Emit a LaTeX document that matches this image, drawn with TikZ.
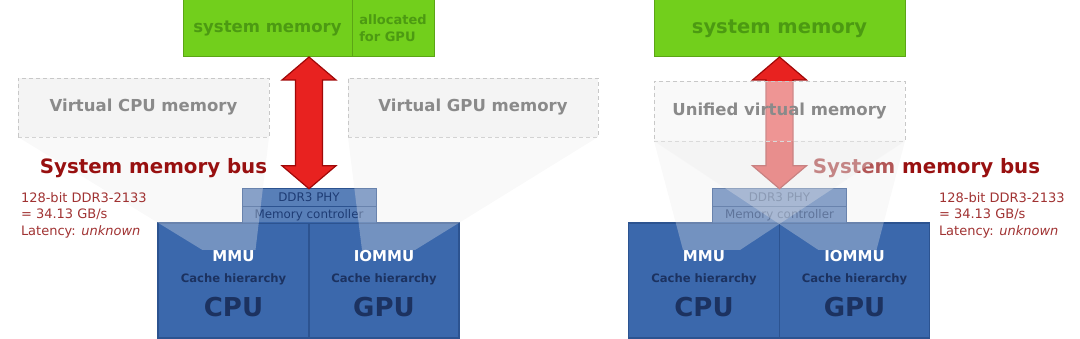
\documentclass[tikz,border=0pt]{standalone}
\usepackage{fontspec}
\setmainfont{DejaVu Sans}
\usepackage{xcolor}
\usepackage{tikz}
\usetikzlibrary{calc, positioning}
\definecolor{memgreen}{HTML}{72CF1C}
\definecolor{memgreenline}{HTML}{5BA515}
\definecolor{memgreentext}{HTML}{4C9A12}
\definecolor{blockblue}{HTML}{3B68AC}
\definecolor{blockline}{HTML}{2C5390}
\definecolor{labelnavy}{HTML}{1C3260}
\definecolor{mctext}{HTML}{1E3C74}
\definecolor{busred}{HTML}{E82220}
\definecolor{busedge}{HTML}{A00808}
\definecolor{bustext}{HTML}{981010}
\definecolor{spectext}{HTML}{A03232}
\definecolor{virtfill}{HTML}{F4F4F4}
\definecolor{virtline}{HTML}{C8C8C8}
\definecolor{virttext}{HTML}{8A8A8A}
\def\headW{27pt}
\def\headL{23pt}
\def\shaftW{13.5pt}
\newcommand{\fsize}[2]{\fontsize{#1}{#2}\selectfont}
\newcommand{\busarrow}[3][]{%
% #1 = extra options, #2 = memory node (top), #3 = controller node (bottom)
\draw[busline,#1] let \p1=(#3.north), \p2=(#2.south) in
(\x1,\y2) -- (\x1+\headW,\y2-\headL) -- (\x1+\shaftW,\y2-\headL)
-- (\x1+\shaftW,\y1+\headL) -- (\x1+\headW,\y1+\headL) -- (\x1,\y1)
-- (\x1-\headW,\y1+\headL) -- (\x1-\shaftW,\y1+\headL)
-- (\x1-\shaftW,\y2-\headL) -- (\x1-\headW,\y2-\headL) -- cycle;
}
\newcommand{\corelabels}[3]{%
% #1 = block node, #2 = mmu name, #3 = unit name
\node[mmutext] (#1-mmu) at ($(#1.north)+(0,33)$) {#2};
\node[cachetext] (#1-cache) at ($(#1.north)+(0,56)$) {Cache hierarchy};
\node[unittext] (#1-unit) at ($(#1.north)+(0,84)$) {#3};
}

\begin{document}
\begin{tikzpicture}[
    x=1pt, y=-1pt,
    every node/.style={inner sep=0pt, outer sep=0pt},
    sysmem/.style={draw=memgreenline, fill=memgreen, line width=1pt, minimum height=57pt,
        text=memgreentext, font=\bfseries\fsize{16.5}{20}},
    virt/.style={draw=virtline, fill=virtfill, dash pattern=on 4pt off 3pt, line width=0.8pt,
        minimum height=59pt, text=virttext, font=\bfseries\fsize{16.5}{20}},
    block/.style={draw=blockline, fill=blockblue, line width=1.2pt, minimum height=115pt},
    memctl/.style={draw=blockline, fill=blockblue, fill opacity=0.85, text opacity=1, line width=0.6pt,
        minimum width=134pt, minimum height=17.5pt, text=mctext, font=\fsize{11.9}{13}},
    mmutext/.style={text=white, font=\bfseries\fsize{15}{18}},
    cachetext/.style={text=labelnavy, font=\bfseries\fsize{11.6}{14}},
    unittext/.style={text=labelnavy, font=\bfseries\fsize{26}{30}},
    bustitle/.style={anchor=base, text=bustext, font=\bfseries\fsize{19.8}{22}},
    spec/.style={anchor=north west, align=left, text=spectext, font=\fsize{13}{16.5}},
    busline/.style={fill=busred, draw=busedge, line width=1.2pt, line join=miter},
    proj/.style={fill=black!8, fill opacity=0.32}
]
\useasboundingbox (0,0) rectangle (1080,339);

% system memory
\node[sysmem, minimum width=169pt] (sysmemL) at (267.5,28.5) {system memory};
\node[sysmem, minimum width=82pt, align=left, font=\bfseries\fsize{13}{17}] (gpumemL) at (393,28.5) {allocated\\for GPU};
\node[sysmem, minimum width=251pt, font=\bfseries\fsize{19.5}{22}] (sysmemR) at (779.5,28.5) {system memory};

% CPU and GPU blocks
\node[block, minimum width=151pt] (cpuL) at (233.5,280.5) {};
\node[block, minimum width=150pt] (gpuL) at (384,280.5) {};
\node[block, minimum width=151pt] (cpuR) at (704,280.5) {};
\node[block, minimum width=150pt] (gpuR) at (854.5,280.5) {};
\node[memctl] (phyL) at (309,197.5) {DDR3 PHY};
\node[memctl] (mcL) at (309,215) {Memory controller};
\node[memctl] (phyR) at (779.5,197.5) {DDR3 PHY};
\node[memctl] (mcR) at (779.5,215) {Memory controller};

% virtual memory
\node[virt, minimum width=251pt] (virtcpu) at (143.5,107.5) {Virtual CPU memory};
\node[virt, minimum width=250pt] (virtgpu) at (473,107.5) {Virtual GPU memory};
\busarrow{sysmemR}{phyR}
\node[virt, minimum width=251pt, minimum height=60pt, fill opacity=0.55, text opacity=1] (virtuni) at (779.5,111) {Unified virtual memory};
\node[bustitle] (busR) at (926.5,174) {System memory bus};

% mappings
\fill[proj] (virtcpu.south west) -- (virtcpu.south east) -- ($(cpuL.north)+(22,27)$) -- ($(cpuL.north)+(-31,27)$) -- cycle;
\fill[proj] (virtgpu.south west) -- (virtgpu.south east) -- ($(gpuL.north)+(31,27)$) -- ($(gpuL.north)+(-22,27)$) -- cycle;
\fill[proj] (virtuni.south west) -- (virtuni.south east) -- ($(cpuR.north)+(36,27)$) -- ($(cpuR.north)+(-21,27)$) -- cycle;
\fill[proj] (virtuni.south west) -- (virtuni.south east) -- ($(gpuR.north)+(22,27)$) -- ($(gpuR.north)+(-36,27)$) -- cycle;

\corelabels{cpuL}{MMU}{CPU}
\corelabels{gpuL}{IOMMU}{GPU}
\corelabels{cpuR}{MMU}{CPU}
\corelabels{gpuR}{IOMMU}{GPU}

\node[bustitle] (busL) at (153.5,174) {System memory bus};
\node[spec] (specL) at (21,192.5) {128-bit DDR3-2133\\= 34.13 GB/s\\Latency: \textit{unknown}};
\node[spec] (specR) at (939,192.5) {128-bit DDR3-2133\\= 34.13 GB/s\\Latency: \textit{unknown}};
\busarrow{sysmemL}{phyL}
\end{tikzpicture}
\end{document}
